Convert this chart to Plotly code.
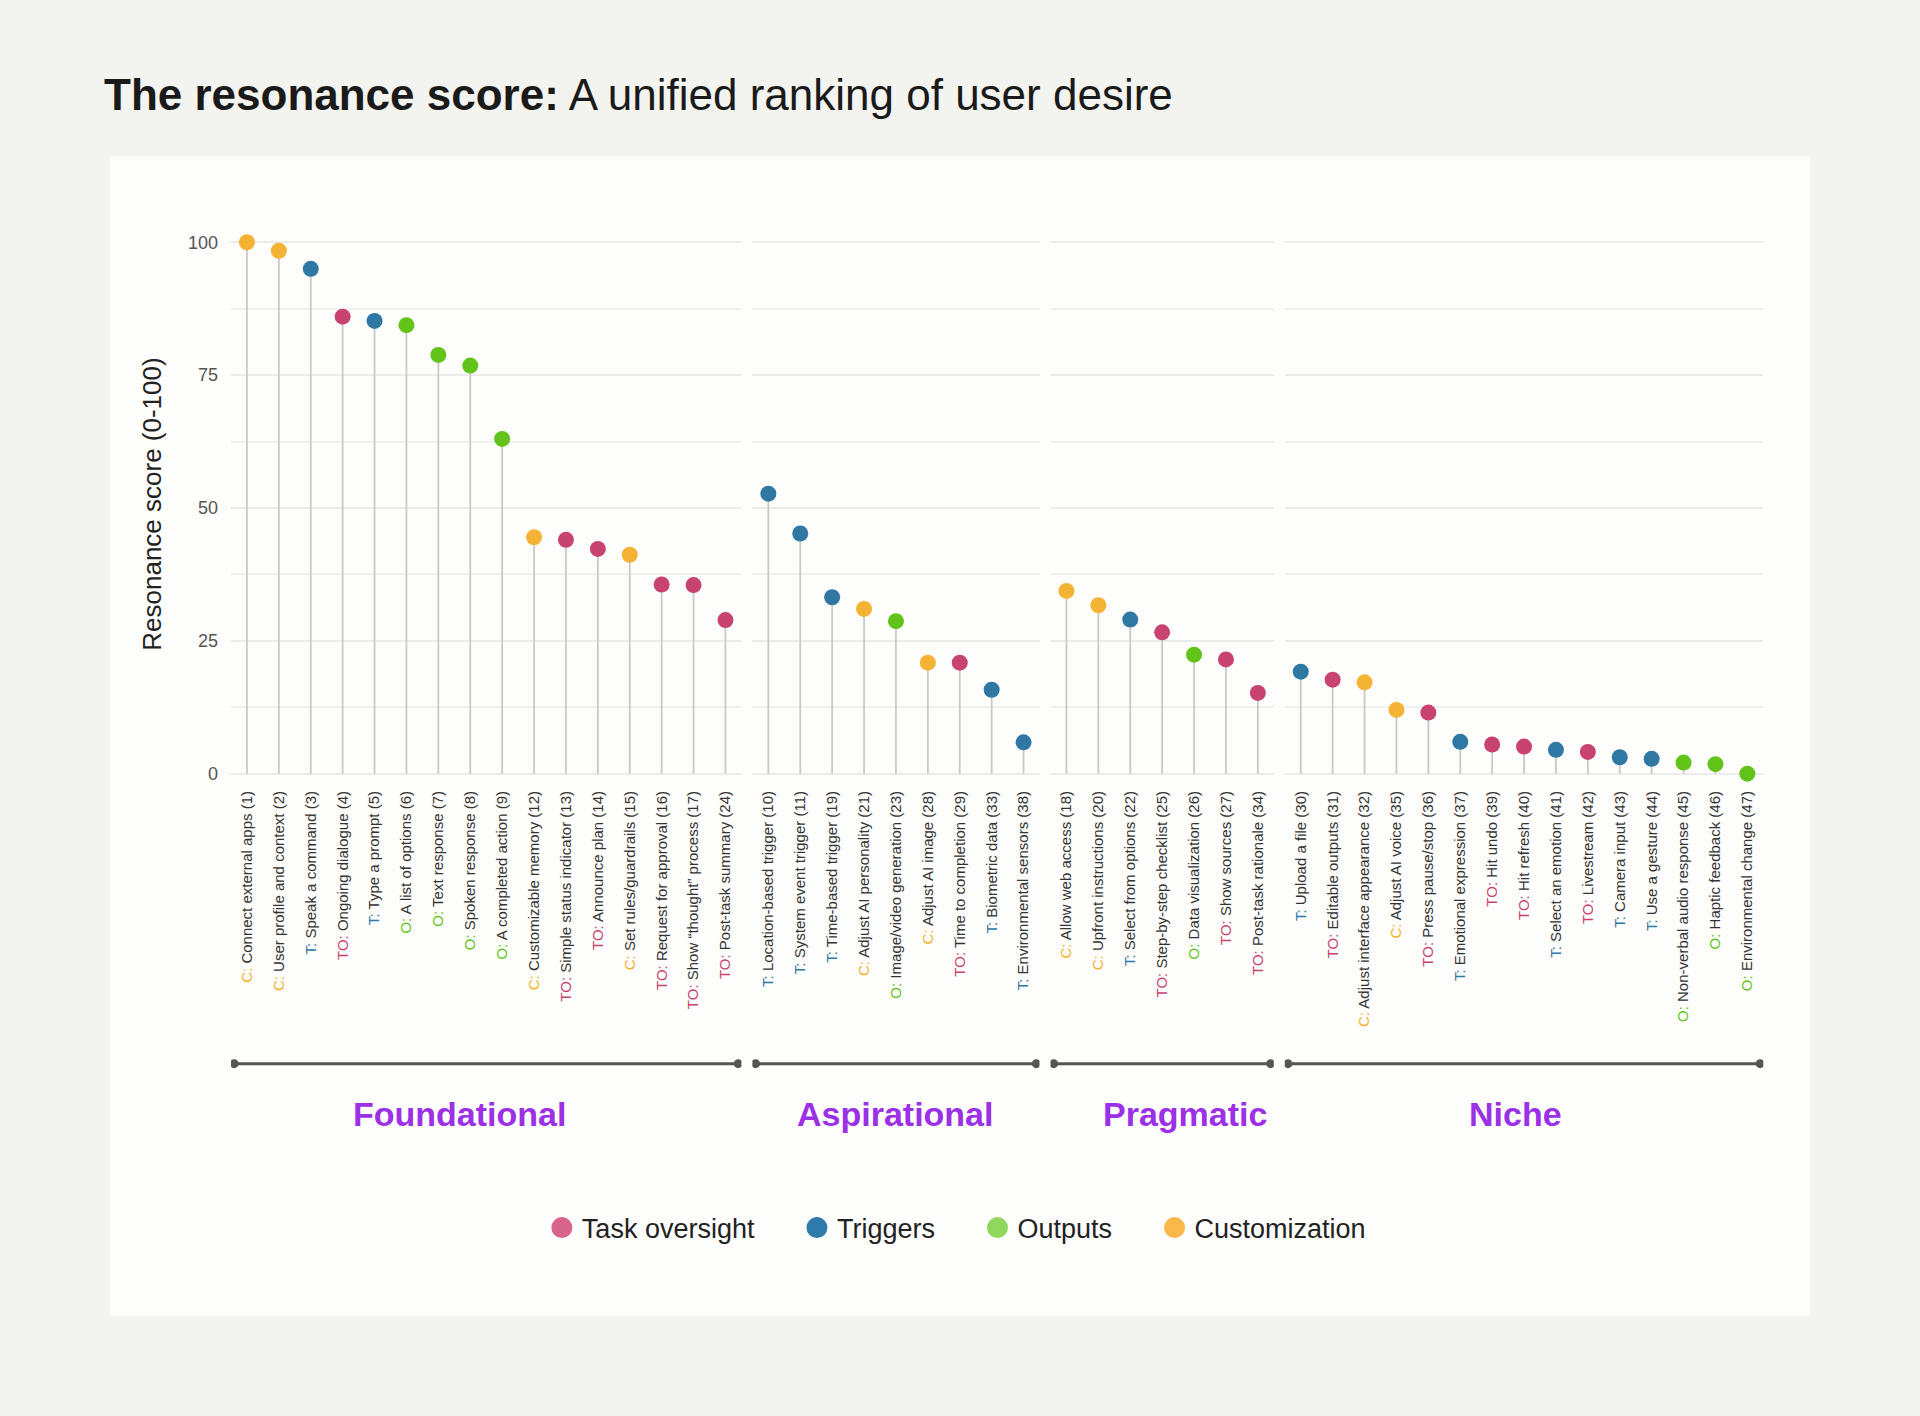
import plotly.graph_objects as go
from plotly.subplots import make_subplots

# %% data

group_names = ["Foundational", "Aspirational", "Pragmatic", "Niche"]

found_labels = ["Connect external apps", "User profile and context", "Speak a command",
                "Ongoing dialogue", "Type a prompt", "A list of options", "Text response",
                "Spoken response", "A completed action", "Customizable memory",
                "Simple status indicator", "Announce plan", "Set rules/guardrails",
                "Request for approval", "Show \u201cthought\u201d process", "Post-task summary"]
found_kinds = ["C", "C", "T", "TO", "T", "O", "O", "O", "O", "C", "TO", "TO", "C", "TO", "TO", "TO"]
found_ranks = [1, 2, 3, 4, 5, 6, 7, 8, 9, 12, 13, 14, 15, 16, 17, 24]
found_scores = [100, 98.4, 95.0, 86.0, 85.2, 84.4, 78.8, 76.8, 63.0, 44.5, 44.0, 42.3, 41.2, 35.6, 35.5, 28.9]

asp_labels = ["Location-based trigger", "System event trigger", "Time-based trigger",
              "Adjust AI personality", "Image/video generation", "Adjust AI image",
              "Time to completion", "Biometric data", "Environmental sensors"]
asp_kinds = ["T", "T", "T", "C", "O", "C", "TO", "T", "T"]
asp_ranks = [10, 11, 19, 21, 23, 28, 29, 33, 38]
asp_scores = [52.7, 45.2, 33.2, 31.0, 28.7, 20.9, 20.9, 15.8, 5.9]

prag_labels = ["Allow web access", "Upfront instructions", "Select from options",
               "Step-by-step checklist", "Data visualization", "Show sources", "Post-task rationale"]
prag_kinds = ["C", "C", "T", "TO", "O", "TO", "TO"]
prag_ranks = [18, 20, 22, 25, 26, 27, 34]
prag_scores = [34.4, 31.7, 29.0, 26.6, 22.4, 21.5, 15.2]

niche_labels = ["Upload a file", "Editable outputs", "Adjust interface appearance",
                "Adjust AI voice", "Press pause/stop", "Emotional expression", "Hit undo",
                "Hit refresh", "Select an emotion", "Livestream", "Camera input",
                "Use a gesture", "Non-verbal audio response", "Haptic feedback",
                "Environmental change"]
niche_kinds = ["T", "TO", "C", "C", "TO", "T", "TO", "TO", "T", "TO", "T", "T", "O", "O", "O"]
niche_ranks = [30, 31, 32, 35, 36, 37, 39, 40, 41, 42, 43, 44, 45, 46, 47]
niche_scores = [19.2, 17.7, 17.2, 12.0, 11.5, 6.0, 5.5, 5.1, 4.5, 4.1, 3.1, 2.8, 2.1, 1.8, 0.0]

kind_codes = ["TO", "T", "O", "C"]
kind_names = ["Task oversight", "Triggers", "Outputs", "Customization"]
kind_colors = ["#c8446f", "#2f78a3", "#62c41a", "#f5b335"]
legend_colors = ["#d8648e", "#2e7aab", "#8fd85d", "#fbb84a"]

groups = [
    (found_labels, found_kinds, found_ranks, found_scores),
    (asp_labels, asp_kinds, asp_ranks, asp_scores),
    (prag_labels, prag_kinds, prag_ranks, prag_scores),
    (niche_labels, niche_kinds, niche_ranks, niche_scores),
]

color_of = dict(zip(kind_codes, kind_colors))

W, H = 1920, 1416
FONT = "Liberation Sans"

# y: value 0 at 774px, 100 at 242.5px (from top of page)
y_lo, y_hi = -2.5, 104
px_per_unit = (774 - 242.5) / 100
top_px = 242.5 - (y_hi - 100) * px_per_unit
bot_px = 774 - y_lo * px_per_unit

# where the group names sit (page px), they are not exactly centred in the original
label_px = [459, 895, 1185, 1515]


def py(p):
    # page pixel row -> paper y
    return (bot_px - p) / (bot_px - top_px)


fig = make_subplots(rows=1, cols=4, shared_yaxes=True)

# column widths in px, one step per category
x_start, step, gap = 231, 31.9, 11
left = x_start
for i, (labels, kinds, ranks, scores) in enumerate(groups):
    n = len(labels)
    col = i + 1
    ax = "" if i == 0 else str(col)
    ticks = [f"<span style='color:{color_of[k]}'>{k}:</span> {lab} ({r})"
             for lab, k, r in zip(labels, kinds, ranks)]

    # stems
    sx, sy = [], []
    for t, v in zip(ticks, scores):
        sx += [t, t, None]
        sy += [0, v, None]
    fig.add_trace(go.Scatter(x=sx, y=sy, mode="lines", hoverinfo="skip",
                             line=dict(color="#c9c9c9", width=1.8), showlegend=False),
                  row=1, col=col)
    # dots
    fig.add_trace(go.Scatter(x=ticks, y=scores, mode="markers", showlegend=False,
                             marker=dict(size=16, color=[color_of[k] for k in kinds],
                                         line=dict(width=0))),
                  row=1, col=col)

    width = n * step
    fig.layout["xaxis" + ax].domain = [left / W, (left + width) / W]
    fig.layout["xaxis" + ax].range = [-0.5, n - 0.5]
    left += width + gap

    # bracket under the group
    yb = py(1064)
    fig.add_shape(type="line", xref="x" + ax, yref="paper", x0=-0.4, x1=n - 1 + 0.4,
                  y0=yb, y1=yb, line=dict(color="#555555", width=3))
    for xe in [-0.4, n - 1 + 0.4]:
        fig.add_shape(type="circle", xref="x" + ax, yref="paper",
                      xsizemode="pixel", ysizemode="pixel", xanchor=xe, yanchor=yb,
                      x0=-4.5, x1=4.5, y0=-4.5, y1=4.5,
                      fillcolor="#555555", line=dict(width=0))
    fig.add_annotation(text="<b>" + group_names[i] + "</b>", xref="paper",
                       yref="paper", x=label_px[i] / W, y=py(1114),
                       xanchor="center", yanchor="middle",
                       showarrow=False, font=dict(family=FONT, size=34, color="#9b30e6"))

# legend entries (outline makes the legend dot a bit bigger than plotly's 16px cap)
for name, c in zip(kind_names, legend_colors):
    fig.add_trace(go.Scatter(x=[None], y=[None], mode="markers", name=name + "\u00a0" * 5,
                             marker=dict(size=16, color=c, line=dict(color=c, width=5))))

fig.update_xaxes(tickangle=-90, tickfont=dict(family=FONT, size=15, color="#333333"),
                 showgrid=False, zeroline=False, showline=False, ticks="",
                 automargin=False, fixedrange=True)
fig.update_yaxes(range=[y_lo, y_hi], tickvals=[0, 25, 50, 75, 100],
                 showgrid=True, gridcolor="#ebebeb", gridwidth=1.5,
                 minor=dict(tickvals=[12.5, 37.5, 62.5, 87.5], showgrid=True,
                            gridcolor="#f0f0f0", gridwidth=1.5),
                 zeroline=False, showline=False, ticks="", ticklabelstandoff=12,
                 tickfont=dict(family=FONT, size=18, color="#555555"), automargin=False)

# white card behind the chart
fig.add_shape(type="rect", xref="paper", yref="paper", layer="below",
              x0=110 / W, x1=1810 / W, y0=py(1316), y1=py(157),
              fillcolor="#fdfdfb", line=dict(width=0))

fig.add_annotation(text="Resonance score (0-100)", xref="paper", yref="paper",
                   x=152 / W, y=py(505), xanchor="center", yanchor="middle",
                   textangle=-90, showarrow=False,
                   font=dict(family=FONT, size=26, color="#222222"))

fig.update_layout(
    width=W, height=H,
    margin=dict(l=0, r=0, t=top_px, b=H - bot_px),
    paper_bgcolor="#f3f3ef", plot_bgcolor="rgba(0,0,0,0)",
    title=dict(text="<b>The resonance score:</b> A unified ranking of user desire",
               x=104 / W, xanchor="left", y=1 - 95 / H, yanchor="middle",
               font=dict(family=FONT, size=44, color="#1a1a1a")),
    legend=dict(orientation="h", x=0.508, xanchor="center", yref="container",
                y=1 - 1228 / H, yanchor="middle",
                font=dict(family=FONT, size=27, color="#222222"), bgcolor="rgba(0,0,0,0)"),
    showlegend=True,
)

fig.write_html("out.html", config={"displayModeBar": False},
               post_script="document.body.style.margin='0px';")
